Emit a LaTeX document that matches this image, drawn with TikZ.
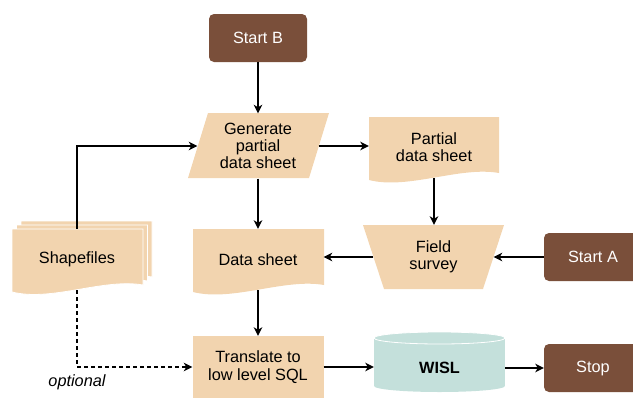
\documentclass[tikz,border=0pt]{standalone}
\usepackage{fontspec}
\setmainfont{Liberation Sans}
\usetikzlibrary{arrows.meta}
\definecolor{peach}{HTML}{F2D4AF}
\definecolor{termbrown}{HTML}{7A4F3A}
\definecolor{dbteal}{HTML}{C4E0DB}
\newcommand{\docpath}[4]{(#1,#3) -- (#2,#3) -- (#2,#4-5) .. controls ({#2-0.3*(#2-#1)},#4-12) and ({#1+0.3*(#2-#1)},#4+12) .. (#1,#4+2) -- cycle}
\begin{document}
\begin{tikzpicture}[x=1pt,y=-1pt,
  lbl/.style={draw=none, inner sep=0pt, align=center, font=\fontsize{16.3}{17.3}\selectfont},
  term/.style={lbl, fill=termbrown, rounded corners=5pt, text=white, minimum width=98pt, minimum height=48pt},
  shapefill/.style={fill=peach},
  layer/.style={fill=peach, draw=white, line width=0.8pt},
  arr/.style={line width=2.2pt, -{Stealth[length=8.5pt,width=8.5pt,inset=2.5pt]}},
  dasharr/.style={arr, dash pattern=on 4pt off 3pt},
]
\useasboundingbox (0,0) rectangle (633,397);
\clip (0,0) rectangle (633,397);
% shapes
\fill[shapefill] (208,113) -- (329,113) -- (309,178) -- (188,178) -- cycle;
\fill[shapefill] \docpath{369}{499}{117}{178};
\fill[shapefill] \docpath{193}{324}{229}{290};
\fill[shapefill] (363,225) -- (504,225) -- (483,289) -- (384,289) -- cycle;
\fill[shapefill] (193,336) rectangle (324,398);
\filldraw[layer] \docpath{21}{152}{221}{282};
\filldraw[layer] \docpath{16.5}{147.5}{225}{286};
\filldraw[layer] \docpath{12}{143}{229}{290};
% cylinder
\fill[dbteal] (374,338) rectangle (505,386);
\fill[dbteal] (439.5,386) ellipse [x radius=65.5pt, y radius=6pt];
\fill[dbteal] (439.5,338) ellipse [x radius=65.5pt, y radius=6pt];
\draw[white, line width=0.8pt] (439.5,338) ellipse [x radius=65.5pt, y radius=6pt];
% nodes
\node[term] (startB) at (258,38) {Start B};
\node[lbl, minimum width=121pt, minimum height=65pt] (gen) at (258,146) {Generate\\partial\\data sheet};
\node[lbl, minimum width=130pt, minimum height=61pt] (pds) at (434,147.5) {Partial\\data sheet};
\node[lbl, minimum width=131pt, minimum height=61pt] (ds) at (258,259.5) {Data sheet};
\node[lbl, minimum width=120pt, minimum height=64pt] (field) at (433.5,257) {Field\\survey};
\node[term] (startA) at (593,257) {Start A};
\node[lbl, minimum width=130pt, minimum height=61pt] (shp) at (77,259.5) {Shapefiles};
\node[lbl, minimum width=131pt, minimum height=62pt] (trans) at (258,367) {Translate to\\low level SQL};
\node[lbl, minimum width=131pt, minimum height=50pt, font=\fontsize{16.3}{17.3}\selectfont\bfseries] (wisl) at (439.5,368) {WISL};
\node[term] (stop) at (593,368) {Stop};
\node[lbl, font=\fontsize{16.3}{17.3}\selectfont\itshape] (opt) at (77,382) {optional};
% connectors
\draw[arr] (startB.south) -- (gen.north);
\draw[arr] (gen.east) -- (gen.east -| pds.west);
\draw[arr] (shp.north) |- (gen.west);
\draw[arr] (gen.south) -- (ds.north);
\draw[arr] (pds.south) -- (pds.south |- field.north);
\draw[arr] (startA.west) -- (field.east);
\draw[arr] (field.west) -- (field.west -| ds.east);
\draw[arr] (ds.south) -- (trans.north);
\draw[arr] (trans.east) -- (trans.east -| wisl.west);
\draw[arr] (wisl.east) -- (wisl.east -| stop.west);
\draw[dasharr] (shp.south) |- (trans.west);
\end{tikzpicture}
\end{document}
